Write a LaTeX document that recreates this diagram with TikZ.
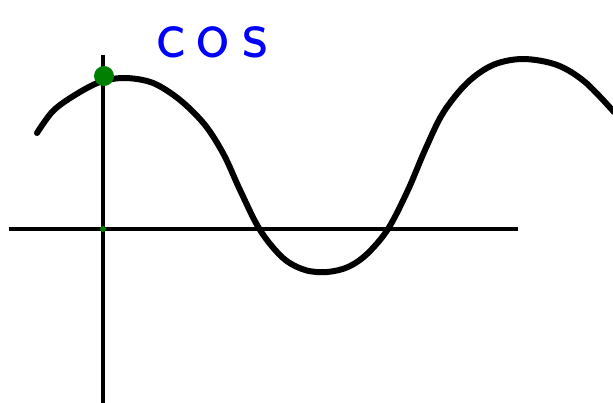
\documentclass[tikz,border=0pt]{standalone}
\begin{document}
\begin{tikzpicture}[x=1pt,y=-1pt,
  axis/.style={line width=4pt},
  wave/.style={line width=6pt,line cap=round,line join=round},
  dotgreen/.style={fill=green!50!black}]
\useasboundingbox (0,0) rectangle (613,403);
% axes
\coordinate (xl) at (9,229);
\coordinate (xr) at (518,229);
\coordinate (yt) at (103,55);
\coordinate (yb) at (103,404);
\draw[axis] (xl) -- (xr);
\draw[axis] (yt) -- (yb);
% wave
\draw[wave] plot[smooth,tension=0.55] coordinates {
 (37,133) (53,111) (75,95) (100,82) (125,78) (153,83) (180,100)
 (205,125) (224,155) (240,190) (260,230) (283,258) (305,270)
 (327,272) (348,267) (367,254) (388,229) (408,190) (425,150) (443,113)
 (467,83) (493,65) (523,59) (557,65) (585,82) (614,112)};
% dots
\fill[dotgreen] (104,76) circle (10);
\fill[dotgreen] (103,229) circle (3);
% label
\node[text=blue,font=\sffamily\fontsize{70}{70}\selectfont,anchor=base west,inner sep=0pt] (lbl) at (156,58) {c\kern11pt o\kern13pt s};
\end{tikzpicture}
\end{document}
